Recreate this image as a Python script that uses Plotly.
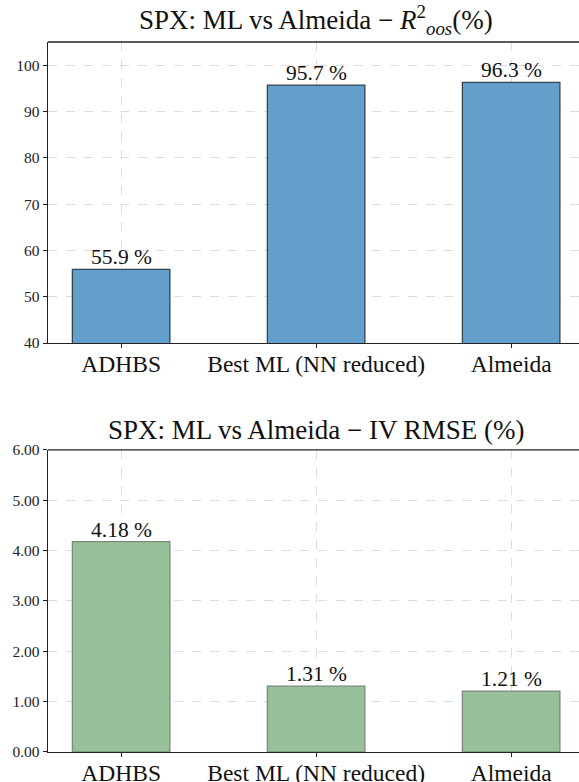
import plotly.graph_objects as go
from plotly.subplots import make_subplots

categories = ["ADHBS", "Best ML (NN reduced)", "Almeida"]
r2_values = [55.9, 95.7, 96.3]
rmse_values = [4.18, 1.31, 1.21]
r2_ticks = [40, 50, 60, 70, 80, 90, 100]
rmse_ticks = [0, 1, 2, 3, 4, 5, 6]

FONT = "Liberation Serif"

fig = make_subplots(rows=2, cols=1, vertical_spacing=0.15)

fig.add_trace(go.Bar(
    x=categories, y=r2_values, width=0.5,
    marker=dict(color="#62a0cb", line=dict(color="#38444d", width=1.3)),
    showlegend=False, hoverinfo="skip"), row=1, col=1)

fig.add_trace(go.Bar(
    x=categories, y=rmse_values, width=0.5,
    marker=dict(color="#98c19a", line=dict(color="#7a8a7c", width=1.3)),
    showlegend=False, hoverinfo="skip"), row=2, col=1)

for c, v in zip(categories, r2_values):
    fig.add_annotation(x=c, y=v, xref="x", yref="y", text=f"{v:.1f} %",
                       showarrow=False, yanchor="bottom", yshift=-2,
                       font=dict(family=FONT, size=21.5, color="#111"))
for c, v in zip(categories, rmse_values):
    fig.add_annotation(x=c, y=v, xref="x2", yref="y2", text=f"{v:.2f} %",
                       showarrow=False, yanchor="bottom", yshift=-2,
                       font=dict(family=FONT, size=21.5, color="#111"))

axis_common = dict(
    showline=True, linecolor="#222", linewidth=1.3, mirror=False,
    ticks="outside", ticklen=4, tickcolor="#222",
    showgrid=True, gridcolor="#dddddd", griddash="dash", gridwidth=1,
    zeroline=False, automargin=False,
)

for r in (1, 2):
    fig.update_xaxes(range=[-0.375, 2.348], tickfont=dict(family=FONT, size=23.5, color="#111"),
                     ticklabelstandoff=-5, **axis_common, row=r, col=1)

fig.update_yaxes(range=[40, 105], tickvals=r2_ticks, ticktext=[str(t) for t in r2_ticks],
                 tickfont=dict(family=FONT, size=15.5, color="#222"),
                 domain=[0.576, 1.0], **axis_common, row=1, col=1)
fig.update_yaxes(range=[0, 6], tickvals=rmse_ticks, ticktext=[f"{t:.2f}" for t in rmse_ticks],
                 tickfont=dict(family=FONT, size=15.5, color="#222"),
                 domain=[0.0, 0.4254], **axis_common, row=2, col=1)

# top spines
fig.add_shape(type="line", xref="x domain", yref="y domain", x0=0, x1=1, y0=1, y1=1,
              line=dict(color="#222", width=1.3))
fig.add_shape(type="line", xref="x2 domain", yref="y2 domain", x0=0, x1=1, y0=1, y1=1,
              line=dict(color="#222", width=1.3))

fig.add_annotation(text="SPX: ML vs Almeida − <i>R</i><sup>2</sup><sub><i>oos</i></sub>(%)",
                   xref="x", yref="y domain", x=1, y=1.0, yshift=1, yanchor="bottom",
                   showarrow=False, font=dict(family=FONT, size=27, color="#111"))
fig.add_annotation(text="SPX: ML vs Almeida − IV RMSE (%)",
                   xref="x2", yref="y2 domain", x=1, y=1.0, yshift=3, yanchor="bottom",
                   showarrow=False, font=dict(family=FONT, size=27, color="#111"))

fig.update_layout(
    width=579, height=782,
    margin=dict(l=48, r=0, t=42, b=30),
    paper_bgcolor="white", plot_bgcolor="white",
    bargap=0.5,
    font=dict(family=FONT),
    hovermode=False,
)

fig.write_html("out.html", config={"displayModeBar": False, "staticPlot": True},
               post_script="document.body.style.margin='0';document.body.style.overflow='hidden';")
